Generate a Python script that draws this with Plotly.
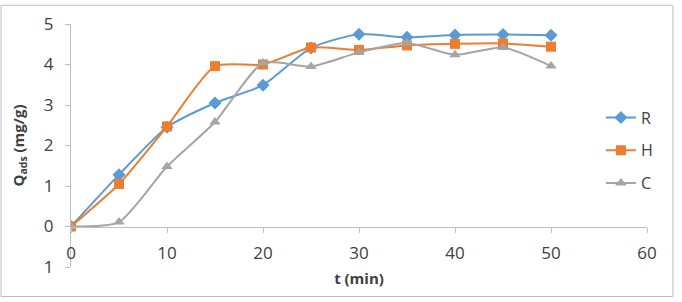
import plotly.graph_objects as go

t = [0, 5, 10, 15, 20, 25, 30, 35, 40, 45, 50]
R = [0, 1.28, 2.45, 3.05, 3.49, 4.41, 4.75, 4.67, 4.73, 4.74, 4.72]
H = [0, 1.05, 2.47, 3.96, 4.0, 4.42, 4.36, 4.47, 4.51, 4.52, 4.44]
C = [0, 0.11, 1.48, 2.58, 4.04, 3.95, 4.3, 4.53, 4.24, 4.42, 3.96]

series = [("R", R, "#5B9BD5", "diamond", 10),
          ("H", H, "#ED7D31", "square", 10),
          ("C", C, "#A5A5A5", "triangle-up", 10)]

yticks = [-1, 0, 1, 2, 3, 4, 5]
yticktext = ["1", "0", "1", "2", "3", "4", "5"]
xticks = [0, 10, 20, 30, 40, 50, 60]

fig = go.Figure()
for name, vals, col, sym, sz in series:
    fig.add_trace(go.Scatter(
        x=t, y=vals, name=name, mode="lines+markers",
        line=dict(color=col, width=2, shape="spline", smoothing=0.6),
        marker=dict(symbol=sym, size=sz, color=col),
        legendgroup=name,
    ))

font = "Open Sans, Liberation Sans, sans-serif"
txt = "#404040"
fig.update_layout(
    width=682, height=302,
    margin=dict(l=71, r=35, t=20, b=35),
    paper_bgcolor="white", plot_bgcolor="white",
    font=dict(family=font, size=16, color=txt),
    showlegend=True,
    legend=dict(x=0.92, xanchor="left", y=0.685, yanchor="top",
                tracegroupgap=9, font=dict(size=16, color=txt),
                bgcolor="rgba(0,0,0,0)"),
    xaxis=dict(range=[0, 60], tickvals=xticks, showgrid=False, zeroline=False,
               showline=True, linecolor="#bfbfbf", linewidth=1,
               ticks="outside", ticklen=5, tickcolor="#bfbfbf",
               tickfont=dict(size=17, color=txt), ticklabelstandoff=6,
               anchor="free", position=1/6,
               title=dict(text="<b>t (min)</b>", font=dict(size=15, color=txt), standoff=10)),
    yaxis=dict(range=[-1, 5], tickvals=yticks, ticktext=yticktext, showgrid=False,
               zeroline=False, showline=True, linecolor="#bfbfbf", linewidth=1,
               ticks="outside", ticklen=5, tickcolor="#bfbfbf",
               tickfont=dict(size=17, color=txt), ticklabelstandoff=8,
               title=dict(text="<b>Q<sub>ads</sub> (mg/g)</b>", font=dict(size=15, color=txt), standoff=15)),
)
fig.add_shape(type="rect", xref="paper", yref="paper",
              x0=-0.1215, x1=1.045, y0=-0.1215, y1=1.077,
              line=dict(color="#bfbfbf", width=1), layer="below")

fig.write_html("out.html")
